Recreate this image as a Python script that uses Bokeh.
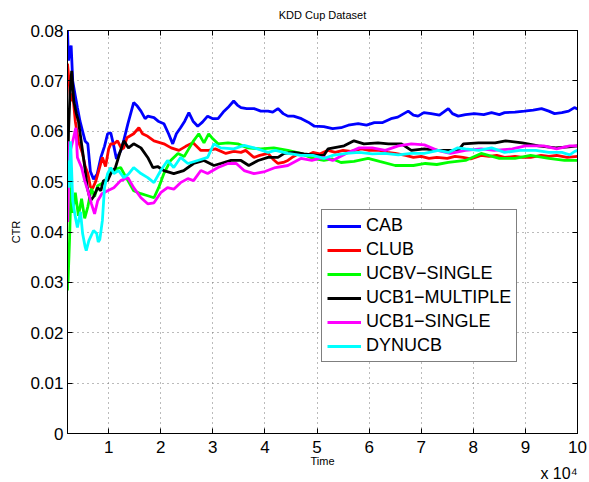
from bokeh.plotting import figure
from bokeh.models import Range1d, FixedTicker, LinearAxis, Legend, LegendItem, Title
from bokeh.embed import file_html
from bokeh.resources import INLINE

FONT = "Liberation Sans"

# ---- data (time in units of 10^4, CTR) ----
cab_t = [0.21,0.23,0.25,0.28,0.31,0.36,0.40,0.45,0.50,0.55,0.60,0.65,0.71,0.78,0.85,0.92,0.98,1.04,1.10,1.15,
         1.25,1.37,1.48,1.55,1.62,1.70,1.75,1.87,1.95,2.06,2.15,2.23,2.30,2.38,2.46,2.54,2.62,2.71,2.80,2.90,
         3.00,3.10,3.20,3.29,3.40,3.47,3.54,3.65,3.79,3.92,4.06,4.15,4.25,4.35,4.44,4.55,4.70,4.83,4.95,5.13,
         5.30,5.46,5.60,5.79,5.95,6.10,6.25,6.42,6.55,6.75,6.85,6.94,7.05,7.19,7.35,7.52,7.60,7.71,7.85,8.02,
         8.20,8.35,8.50,8.60,8.80,8.98,9.15,9.31,9.45,9.56,9.70,9.83,9.94,10.0]
cab_v = [0.080,0.074,0.076,0.077,0.070,0.067,0.0647,0.062,0.060,0.058,0.0575,0.052,0.0505,0.0515,0.0548,0.057,0.0595,0.0597,0.057,0.0545,
         0.0565,0.0615,0.0657,0.065,0.064,0.0625,0.063,0.0627,0.062,0.0615,0.0595,0.0575,0.0595,0.0607,0.062,0.0637,0.062,0.061,0.0618,0.063,
         0.0625,0.0625,0.0638,0.0647,0.066,0.0652,0.0647,0.0645,0.0645,0.064,0.064,0.0638,0.0645,0.0635,0.063,0.063,0.0625,0.0618,0.061,0.0609,
         0.0605,0.0607,0.0612,0.0615,0.0612,0.0617,0.0617,0.0625,0.0628,0.064,0.0632,0.063,0.0637,0.0635,0.0632,0.0645,0.0635,0.063,0.0633,0.0635,
         0.0633,0.0637,0.0633,0.0637,0.0638,0.064,0.0642,0.0645,0.064,0.0635,0.0637,0.064,0.0647,0.0644]

club_t = [0.21,0.24,0.27,0.31,0.36,0.42,0.50,0.55,0.60,0.65,0.69,0.75,0.81,0.88,0.94,1.00,1.04,1.10,1.17,1.25,
          1.29,1.35,1.48,1.58,1.65,1.75,1.87,2.06,2.20,2.35,2.48,2.62,2.77,2.92,3.05,3.25,3.40,3.54,3.63,3.79,
          3.90,4.06,4.15,4.25,4.35,4.44,4.55,4.65,4.80,4.92,5.05,5.21,5.35,5.50,5.65,5.85,6.00,6.20,6.35,6.50,
          6.70,6.85,7.00,7.15,7.30,7.50,7.65,7.80,7.95,8.15,8.30,8.45,8.60,8.80,8.95,9.10,9.30,9.45,9.60,9.80,10.0]
club_v = [0.0734,0.070,0.066,0.0675,0.062,0.058,0.0555,0.053,0.0516,0.049,0.0486,0.050,0.0522,0.0548,0.053,0.0565,0.0575,0.0575,0.0581,0.0565,
          0.0567,0.0587,0.0595,0.0607,0.0595,0.059,0.0581,0.0575,0.0567,0.0562,0.0570,0.0577,0.0562,0.0562,0.0565,0.0556,0.0560,0.0558,0.0562,0.0548,
          0.0552,0.0556,0.0545,0.0536,0.0538,0.0542,0.0550,0.0556,0.0552,0.0558,0.0555,0.0562,0.0558,0.0562,0.0560,0.0565,0.0562,0.0562,0.0558,0.0556,
          0.0552,0.0548,0.0550,0.0546,0.0548,0.0546,0.0550,0.0548,0.0545,0.0552,0.0550,0.0552,0.0548,0.0550,0.0548,0.0548,0.0552,0.0550,0.0552,0.0548,0.0550]

ucbv_t = [0.21,0.215,0.22,0.25,0.28,0.31,0.36,0.42,0.48,0.54,0.60,0.67,0.73,0.79,0.90,1.04,1.17,1.23,1.30,1.37,
          1.48,1.62,1.75,1.87,1.96,2.06,2.19,2.33,2.45,2.52,2.63,2.73,2.83,2.92,3.00,3.10,3.29,3.48,3.67,3.92,
          4.17,4.44,4.69,4.92,5.13,5.30,5.46,5.71,5.98,6.20,6.50,6.85,7.08,7.30,7.52,7.85,8.15,8.50,8.80,9.10,
          9.45,9.75,10.0]
ucbv_v = [0.0284,0.033,0.0300,0.0387,0.050,0.0438,0.0478,0.0432,0.0466,0.0427,0.045,0.0486,0.047,0.0492,0.0498,0.0518,0.0526,0.0528,0.0515,0.0502,
          0.0482,0.0476,0.0472,0.0468,0.0488,0.0516,0.0542,0.0556,0.0550,0.0562,0.0581,0.0595,0.0577,0.0595,0.0585,0.0575,0.0577,0.0575,0.0567,0.0565,
          0.0567,0.0562,0.0556,0.0546,0.0542,0.0545,0.0538,0.0540,0.0546,0.0540,0.0532,0.0532,0.0536,0.0534,0.0538,0.0542,0.0556,0.0546,0.0546,0.0552,
          0.0546,0.0542,0.0542]

ucb1m_t = [0.21,0.23,0.26,0.29,0.33,0.38,0.42,0.48,0.54,0.59,0.65,0.71,0.79,0.85,0.90,0.98,1.04,1.13,1.23,1.29,
           1.38,1.48,1.62,1.75,1.85,1.94,2.06,2.25,2.44,2.63,2.83,3.02,3.15,3.35,3.54,3.69,3.87,4.06,4.25,4.37,
           4.56,4.75,5.00,5.13,5.21,5.52,5.71,5.90,6.17,6.37,6.62,6.81,7.06,7.33,7.52,7.71,7.81,8.10,8.42,8.62,
           8.94,9.25,9.58,9.83,10.0]
ucb1m_v = [0.0494,0.060,0.068,0.072,0.066,0.0635,0.062,0.0575,0.053,0.0488,0.0462,0.047,0.0488,0.0482,0.0502,0.0502,0.0516,0.0528,0.0562,0.0581,
           0.0567,0.0575,0.0567,0.0548,0.0528,0.0530,0.0522,0.0516,0.0522,0.0536,0.0542,0.0532,0.0536,0.0542,0.0542,0.0532,0.0542,0.0548,0.0548,0.0556,
           0.0558,0.0555,0.0552,0.0552,0.0565,0.0571,0.0581,0.0575,0.0577,0.0575,0.0575,0.0562,0.0565,0.0562,0.0562,0.0562,0.0575,0.0577,0.0577,0.0581,
           0.0577,0.0571,0.0567,0.0569,0.0571]

ucb1s_t = [0.21,0.215,0.23,0.26,0.31,0.37,0.40,0.48,0.54,0.60,0.67,0.73,0.79,0.87,0.98,1.10,1.23,1.37,1.48,1.62,
           1.75,1.87,2.00,2.13,2.25,2.38,2.52,2.63,2.77,2.90,3.10,3.29,3.45,3.60,3.79,4.00,4.20,4.44,4.69,4.90,
           5.13,5.30,5.56,5.81,6.06,6.31,6.56,6.81,7.06,7.31,7.56,7.85,8.15,8.40,8.75,9.00,9.35,9.60,9.85,10.0]
ucb1s_v = [0.058,0.042,0.050,0.056,0.058,0.0607,0.0548,0.0528,0.0502,0.0482,0.0456,0.0436,0.0462,0.0476,0.0482,0.0488,0.0502,0.0508,0.0488,0.0468,
           0.0456,0.0458,0.0478,0.0488,0.0485,0.0498,0.0506,0.0502,0.0522,0.0516,0.0528,0.0536,0.0536,0.0522,0.0516,0.0520,0.0528,0.0532,0.0546,0.0542,
           0.0548,0.0542,0.0556,0.0567,0.0567,0.0562,0.0571,0.0575,0.0573,0.0562,0.0556,0.0562,0.0565,0.0562,0.0565,0.0571,0.0571,0.0565,0.0571,0.0571]

dyn_t = [0.21,0.22,0.24,0.27,0.31,0.36,0.40,0.46,0.50,0.55,0.57,0.62,0.71,0.77,0.80,0.83,0.88,0.92,0.98,1.04,
         1.10,1.19,1.29,1.38,1.48,1.62,1.75,1.87,2.00,2.13,2.25,2.38,2.52,2.71,2.90,3.02,3.15,3.40,3.60,3.79,
         4.06,4.20,4.44,4.69,4.92,5.13,5.30,5.56,5.81,6.06,6.30,6.56,6.81,7.06,7.33,7.52,7.70,7.85,8.10,8.35,
         8.60,8.90,9.20,9.45,9.70,9.85,9.95,10.0]
dyn_v = [0.0502,0.0542,0.0488,0.058,0.0462,0.0430,0.0409,0.044,0.0397,0.0370,0.0363,0.0383,0.0403,0.0397,0.0380,0.0385,0.0423,0.0488,0.0516,0.0528,
         0.0516,0.0522,0.0508,0.0515,0.0528,0.0516,0.0508,0.0498,0.0522,0.0542,0.0528,0.0548,0.0536,0.0542,0.0548,0.0575,0.0567,0.0565,0.0572,0.0567,
         0.0558,0.0562,0.0556,0.0552,0.0552,0.0546,0.0552,0.0556,0.0558,0.0555,0.0556,0.0553,0.0556,0.0556,0.0562,0.0558,0.0567,0.0565,0.0562,0.0567,
         0.0558,0.0562,0.0562,0.0558,0.0558,0.0553,0.0560,0.0562]

series_names = ["CAB", "CLUB", "UCBV\u2212SINGLE", "UCB1\u2212MULTIPLE", "UCB1\u2212SINGLE", "DYNUCB"]
series_colors = ["#0000FF", "#FF0000", "#00FF00", "#000000", "#FF00FF", "#00FFFF"]
series_data = [(cab_t, cab_v), (club_t, club_v), (ucbv_t, ucbv_v),
               (ucb1m_t, ucb1m_v), (ucb1s_t, ucb1s_v), (dyn_t, dyn_v)]

x_ticks = [1, 2, 3, 4, 5, 6, 7, 8, 9, 10]
x_tick_labels = ["1", "2", "3", "4", "5", "6", "7", "8", "9", "10"]
y_ticks = [0, 0.01, 0.02, 0.03, 0.04, 0.05, 0.06, 0.07, 0.08]
y_tick_labels = ["0", "0.01", "0.02", "0.03", "0.04", "0.05", "0.06", "0.07", "0.08"]
x_multiplier = "x 10\u2074"

# ---- figure ----
p = figure(width=589, height=482, output_backend="svg", toolbar_location=None,
           x_range=Range1d(0.21, 10), y_range=Range1d(0, 0.08),
           min_border_left=67, min_border_right=12, min_border_top=30, min_border_bottom=49,
           title="KDD Cup Dataset")
p.background_fill_color = "white"
p.border_fill_color = "white"
p.outline_line_color = "black"
p.outline_line_width = 1

p.title.text_font = FONT
p.title.text_font_size = "11px"
p.title.text_font_style = "normal"
p.title.align = "center"
p.title.text_color = "black"
p.title.standoff = 16
p.title.vertical_align = "top"

xa = p.xaxis[0]
xa.ticker = FixedTicker(ticks=x_ticks)
xa.major_label_overrides = dict(zip(x_ticks, x_tick_labels))
ya = p.yaxis[0]
ya.ticker = FixedTicker(ticks=y_ticks)
ya.major_label_overrides = dict(zip(y_ticks, y_tick_labels))

for ax in (xa, ya):
    ax.major_label_text_font = FONT
    ax.major_label_text_font_size = "17px"
    ax.major_label_text_color = "black"
    ax.major_tick_in = 5
    ax.major_tick_out = 0
    ax.minor_tick_line_color = None
    ax.axis_line_color = "black"
    ax.major_tick_line_color = "black"
    ax.axis_label_text_font = FONT
    ax.axis_label_text_font_size = "11px"
    ax.axis_label_text_font_style = "normal"
    ax.axis_label_text_color = "black"

xa.axis_label = "Time"
xa.major_label_standoff = 7
xa.axis_label_standoff = -1
ya.axis_label = "CTR"
ya.major_label_standoff = 4
ya.axis_label_standoff = 5

# mirror axes (inward ticks only) on top and right, like a boxed plot
top = LinearAxis(ticker=FixedTicker(ticks=x_ticks), major_label_overrides={t: "" for t in x_ticks},
                 major_label_text_font_size="1px", major_label_standoff=0,
                 major_tick_in=5, major_tick_out=0, minor_tick_line_color=None,
                 axis_line_color="black")
right = LinearAxis(ticker=FixedTicker(ticks=y_ticks), major_label_overrides={t: "" for t in y_ticks},
                   major_label_text_font_size="1px", major_label_standoff=0,
                   major_tick_in=5, major_tick_out=0, minor_tick_line_color=None,
                   axis_line_color="black")
p.add_layout(top, "above")
p.add_layout(right, "right")

# "x 10^4" multiplier, right-aligned under the x axis
mult = Title(text=x_multiplier, align="right", vertical_align="middle", text_font=FONT,
             text_font_size="16px", text_font_style="normal", text_color="black", standoff=-12)
p.add_layout(mult, "below")

for g, t in ((p.xgrid[0], x_ticks), (p.ygrid[0], y_ticks)):
    g.ticker = FixedTicker(ticks=t)
    g.grid_line_color = "#777777"
    g.grid_line_dash = "1 4"
    g.grid_line_width = 1

items = []
for name, color, (t, v) in zip(series_names, series_colors, series_data):
    r = p.line(t, v, line_color=color, line_width=2.8)
    items.append(LegendItem(label=name, renderers=[r]))

legend = Legend(items=items, location=(254, 71))
legend.label_text_font = FONT
legend.label_text_font_size = "18px"
legend.label_text_color = "black"
legend.label_height = 20
legend.glyph_height = 20
legend.glyph_width = 34
legend.label_standoff = 5
legend.spacing = 3
legend.padding = 5
legend.margin = 0
legend.border_line_color = "black"
legend.border_line_width = 1
legend.background_fill_color = "white"
legend.background_fill_alpha = 1
p.add_layout(legend)

open("out.html", "w").write(file_html(p, INLINE))
